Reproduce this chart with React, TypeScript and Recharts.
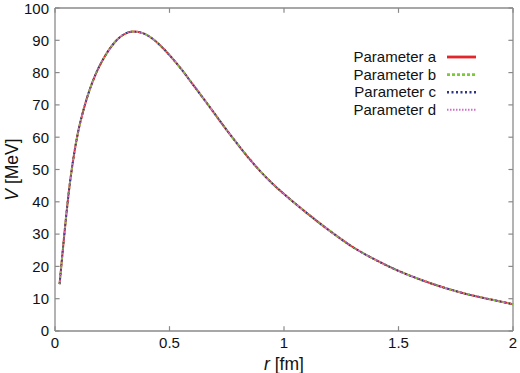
import { Line, LineChart, ReferenceLine, XAxis, YAxis } from "recharts";

const R_FM = [
  0.02, 0.03, 0.04, 0.05, 0.06, 0.08, 0.1, 0.125, 0.15, 0.18, 0.21, 0.24, 0.27, 0.3, 0.34, 0.38,
  0.42, 0.46, 0.5, 0.55, 0.6, 0.65, 0.7, 0.75, 0.8, 0.85, 0.9, 0.95, 1.0, 1.1, 1.2, 1.3, 1.4, 1.5,
  1.6, 1.7, 1.8, 1.9, 2.0,
];
const V_A = [
  14.5, 22.0, 29.4, 36.4, 42.9, 53.3, 61.3, 68.6, 74.4, 79.9, 84.1, 87.5, 90.1, 91.8, 92.7, 92.3,
  90.8, 88.4, 85.4, 81.2, 76.5, 71.8, 67.0, 62.2, 57.6, 53.2, 49.2, 45.6, 42.4, 36.5, 31.0, 26.0,
  22.0, 18.6, 15.8, 13.4, 11.4, 9.8, 8.3,
];
const V_B = V_A.slice();
const V_C = V_A.slice();
const V_D = V_A.slice();

const X_TICKS = [0, 0.5, 1, 1.5, 2];
const Y_TICKS = [0, 10, 20, 30, 40, 50, 60, 70, 80, 90, 100];

const SERIES = [
  { key: "a", name: "Parameter a", color: "#e3262b", width: 2, dash: undefined },
  { key: "b", name: "Parameter b", color: "#7ec93a", width: 2, dash: "3 2" },
  { key: "c", name: "Parameter c", color: "#2f3583", width: 1.8, dash: "2 2.5" },
  { key: "d", name: "Parameter d", color: "#cf6fc6", width: 1.1, dash: "1.5 1.5" },
];

const FRAME = "#8a8a8a";
const FONT = "Arial, 'Liberation Sans', sans-serif";

const rows = R_FM.map((r, i) => ({ r, a: V_A[i], b: V_B[i], c: V_C[i], d: V_D[i] }));

// legend drawn as an overlay so it doesn't eat into the plot area
function LegendBox() {
  return (
    <svg width={150} height={72} style={{ position: "absolute", left: 340, top: 48 }}>
      {SERIES.map((s, i) => {
        const y = 9 + i * 17.6;
        return (
          <g key={s.key}>
            <text x={96} y={y} dy="0.35em" textAnchor="end" fontSize={15} fill="#111" fontFamily={FONT}>
              {s.name}
            </text>
            <line x1={107} x2={136} y1={y} y2={y} stroke={s.color} strokeWidth={s.width + 0.8} strokeDasharray={s.dash} />
          </g>
        );
      })}
    </svg>
  );
}

export default function App() {
  return (
    <div style={{ position: "absolute", left: 0, top: 0, width: 520, height: 373, background: "#fff" }}>
      <LineChart width={520} height={373} data={rows} margin={{ top: 8, right: 7, bottom: 0, left: 0 }}>
        <XAxis
          dataKey="r"
          type="number"
          domain={[0, 2]}
          ticks={X_TICKS}
          tickFormatter={(v) => String(v)}
          tickLine={false}
          tickSize={0}
          tickMargin={6}
          height={42}
          stroke={FRAME}
          axisLine={{ stroke: FRAME, strokeWidth: 1.3 }}
          tick={{ fill: "#111", fontSize: 15, fontFamily: FONT }}
          label={{
            content: (p: any) => {
              const vb = p.viewBox;
              return (
                <text x={vb.x + vb.width / 2} y={vb.y + 39} textAnchor="middle" fontSize={17.5} fill="#111" fontFamily={FONT}>
                  <tspan fontStyle="italic">r</tspan> [fm]
                </text>
              );
            },
          }}
        />
        <YAxis
          type="number"
          domain={[0, 100]}
          ticks={Y_TICKS}
          tickLine={false}
          tickSize={0}
          tickMargin={6}
          width={55}
          stroke={FRAME}
          axisLine={{ stroke: FRAME, strokeWidth: 1.3 }}
          tick={{ fill: "#111", fontSize: 15, fontFamily: FONT }}
          label={{
            content: (p: any) => {
              const vb = p.viewBox;
              const cx = 12;
              const cy = vb.y + vb.height / 2;
              return (
                <text
                  x={cx}
                  y={cy}
                  transform={`rotate(-90 ${cx} ${cy})`}
                  textAnchor="middle"
                  dominantBaseline="central"
                  fontSize={17.5}
                  fill="#111"
                  fontFamily={FONT}
                >
                  <tspan fontStyle="italic">V</tspan> [MeV]
                </text>
              );
            },
          }}
        />
        {/* top and right frame */}
        <ReferenceLine y={100} stroke={FRAME} strokeWidth={1.3} />
        <ReferenceLine x={2} stroke={FRAME} strokeWidth={1.3} />
        {/* inward tick marks on all four sides */}
        {X_TICKS.map((t) => (
          <ReferenceLine key={`xb${t}`} segment={[{ x: t, y: 0 }, { x: t, y: 1.5 }]} stroke={FRAME} strokeWidth={1.2} />
        ))}
        {X_TICKS.map((t) => (
          <ReferenceLine key={`xt${t}`} segment={[{ x: t, y: 100 }, { x: t, y: 98.5 }]} stroke={FRAME} strokeWidth={1.2} />
        ))}
        {Y_TICKS.map((t) => (
          <ReferenceLine key={`yl${t}`} segment={[{ x: 0, y: t }, { x: 0.02, y: t }]} stroke={FRAME} strokeWidth={1.2} />
        ))}
        {Y_TICKS.map((t) => (
          <ReferenceLine key={`yr${t}`} segment={[{ x: 2, y: t }, { x: 1.98, y: t }]} stroke={FRAME} strokeWidth={1.2} />
        ))}
        {SERIES.map((s) => (
          <Line
            key={s.key}
            type="monotone"
            dataKey={s.key}
            name={s.name}
            stroke={s.color}
            strokeWidth={s.width}
            strokeDasharray={s.dash}
            dot={false}
            isAnimationActive={false}
          />
        ))}
      </LineChart>
      <LegendBox />
    </div>
  );
}
